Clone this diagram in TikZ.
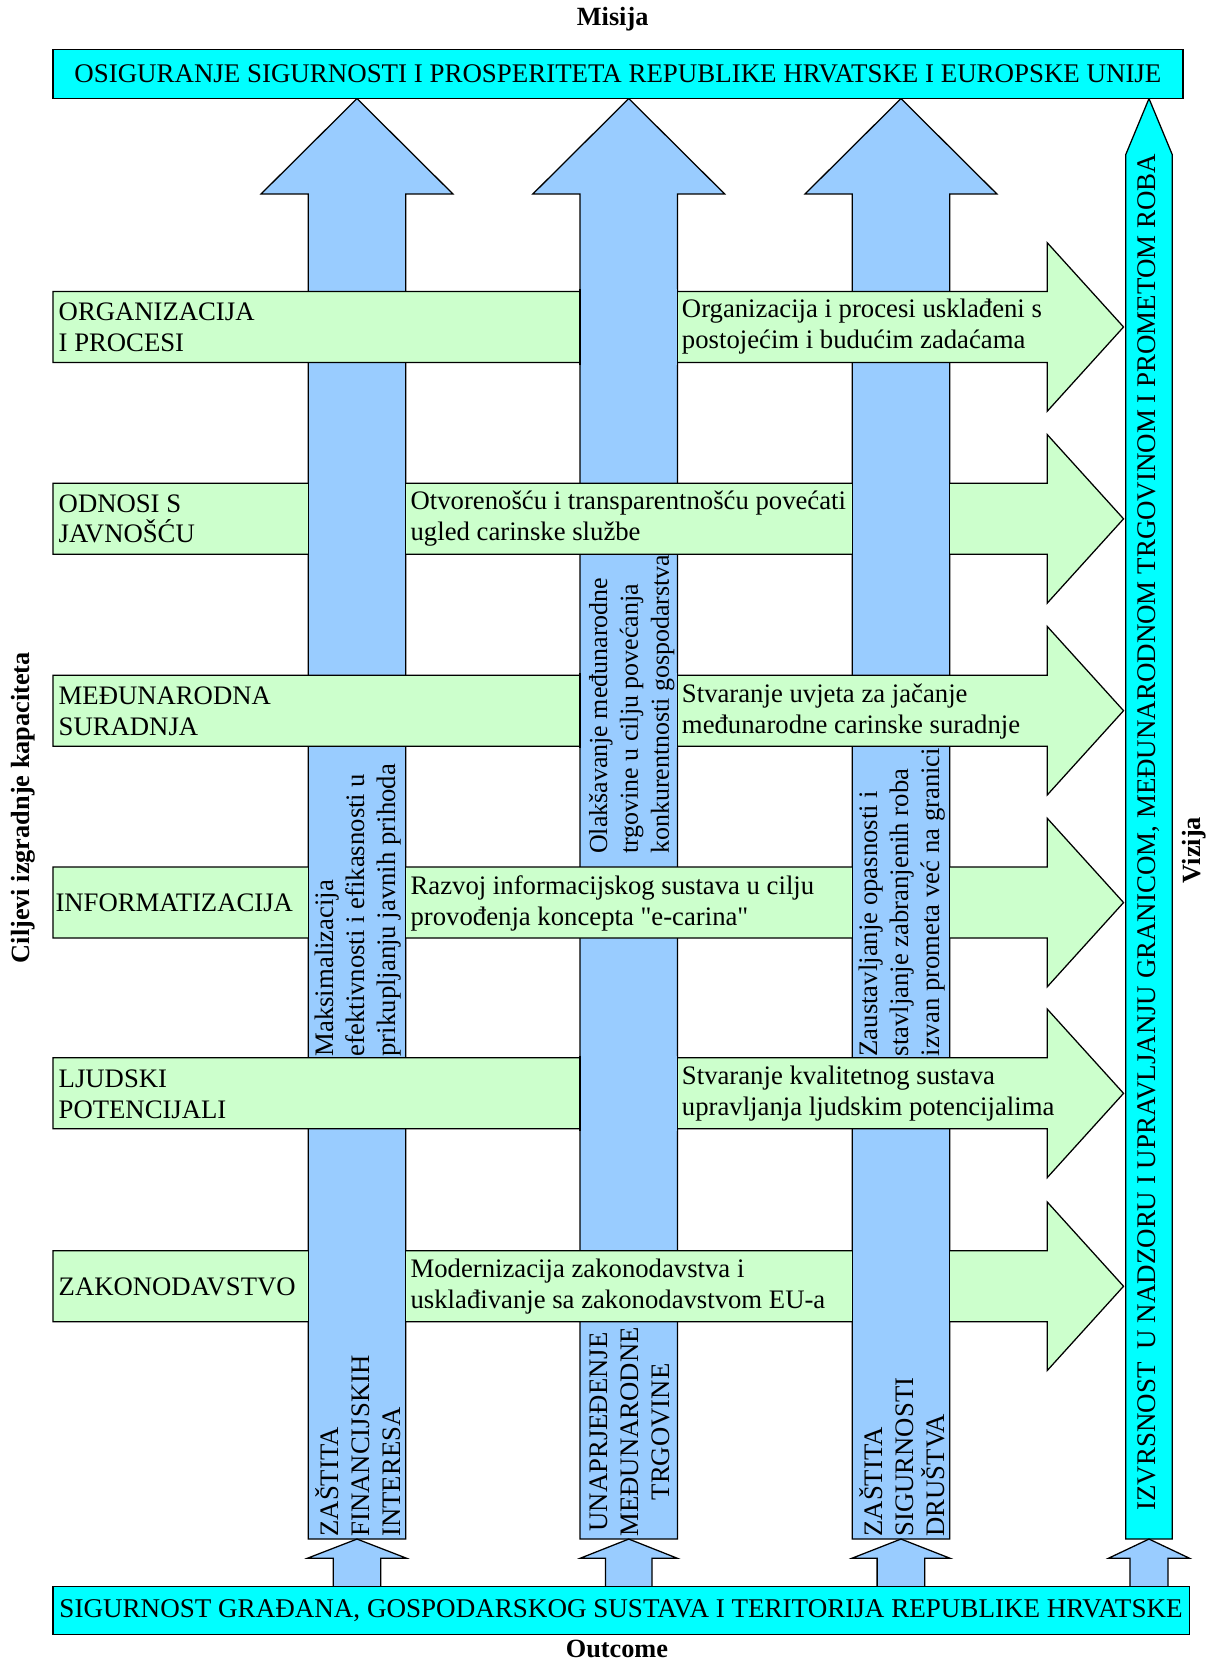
\documentclass[tikz,border=0pt]{standalone}
\usepackage{fontspec}
\setmainfont{Liberation Serif}[Ligatures=TeXOff]
\definecolor{cyanbox}{HTML}{00FFFF}
\definecolor{shaftblue}{HTML}{99CCFF}
\definecolor{rowgreen}{HTML}{CCFFCC}
\begin{document}
\begin{tikzpicture}[x=0.5pt,y=-0.5pt,
  every node/.style={inner sep=0pt, font=\fontsize{12.6}{14.6}\selectfont},
  upblue/.style={draw=black, line width=0.6pt, fill=shaftblue},
  upcyan/.style={draw=black, line width=0.6pt, fill=cyanbox},
  greenarrow/.style={draw=black, line width=0.6pt, fill=rowgreen},
  edgeline/.style={draw=black, line width=0.6pt},
  boldlbl/.style={font=\fontsize{12.4}{14.6}\selectfont\bfseries},
  rowtext/.style={anchor=west, align=left},
  shafttext/.style={rotate=90, anchor=west, align=left},
  shafttextc/.style={rotate=90, anchor=west, align=center}]
\useasboundingbox (0,0) rectangle (1144,1568);

% big blue up arrows
\foreach \c in {336.8,593.2,850}{
  \draw[upblue] (\c-46,1452) -- (\c-46,183) -- (\c-90.5,183) -- (\c,93)
     -- (\c+90.5,183) -- (\c+46,183) -- (\c+46,1452) -- cycle;
}
% cyan vision arrow
\draw[upcyan] (1062,1452) -- (1062,146) -- (1084,93) -- (1106,146) -- (1106,1452) -- cycle;

% green row arrows
\foreach \t in {275,456,637,818,998,1180}{
  \draw[greenarrow] (50,\t) -- (988,\t) -- (988,\t-46) -- (1060,\t+33.5)
     -- (988,\t+113) -- (988,\t+67) -- (50,\t+67) -- cycle;
}
% blue shafts on top: shaft 2 on rows 1,3,5
\foreach \t in {275,637,998}{
  \fill[shaftblue] (547.2,\t-2) rectangle (639.2,\t+69);
  \draw[edgeline] (547.2,\t-2) -- (547.2,\t+69) (639.2,\t-2) -- (639.2,\t+69);
}
% shafts 1 and 3 on rows 2,4,6
\foreach \t in {456,818,1180}{
  \foreach \c in {336.8,850}{
    \fill[shaftblue] (\c-46,\t-2) rectangle (\c+46,\t+69);
    \draw[edgeline] (\c-46,\t-2) -- (\c-46,\t+69) (\c+46,\t-2) -- (\c+46,\t+69);
  }
}

% small bottom arrows
\foreach \c/\h/\s in {336.8/46.5/22.5, 593.2/45.5/22, 850/46/22.5, 1084/38/18}{
  \draw[upblue] (\c-\s,1498) -- (\c-\s,1470) -- (\c-\h,1470) -- (\c,1452)
     -- (\c+\h,1470) -- (\c+\s,1470) -- (\c+\s,1498) -- cycle;
}

% top and bottom boxes
\node[draw=black, line width=0.6pt, fill=cyanbox, minimum width=533pt, minimum height=23pt,
  font=\fontsize{12.7}{14.6}\selectfont]
  (mission) at (583,70) {OSIGURANJE SIGURNOSTI I PROSPERITETA REPUBLIKE HRVATSKE I EUROPSKE UNIJE};
\node[draw=black, line width=0.6pt, fill=cyanbox, minimum width=536pt, minimum height=22.5pt,
  font=\fontsize{12.77}{14.6}\selectfont]
  (outcomebox) at (586,1519.5) {SIGURNOST GRAĐANA, GOSPODARSKOG SUSTAVA I TERITORIJA REPUBLIKE HRVATSKE};

% titles
\node[boldlbl] (misija) at (578,18) {Misija};
\node[boldlbl] (outcome) at (582,1556) {Outcome};
\node[boldlbl, rotate=90] (ciljevi) at (22,762) {Ciljevi izgradnje kapaciteta};
\node[boldlbl, rotate=90] (vizija) at (1127,802) {Vizija};

% vision text
\node[rotate=90, font=\fontsize{12.7}{14.6}\selectfont] (vision) at (1084,785) {IZVRSNOST\hspace{3pt} U NADZORU I UPRAVLJANJU GRANICOM, MEĐUNARODNOM TRGOVINOM I PROMETOM ROBA};

% row labels
\node[rowtext] (l1) at (55,308.5) {ORGANIZACIJA\\I PROCESI};
\node[rowtext] (l2) at (55,489.5) {ODNOSI S\\JAVNOŠĆU};
\node[rowtext] (l3) at (55,671) {MEĐUNARODNA\\SURADNJA};
\node[rowtext] (l4) at (52,852) {INFORMATIZACIJA};
\node[rowtext] (l5) at (55,1032) {LJUDSKI\\POTENCIJALI};
\node[rowtext] (l6) at (55,1214) {ZAKONODAVSTVO};

% row goals
\node[rowtext] (g1) at (643,308.5) {Organizacija i procesi usklađeni s\\postojećim i budućim zadaćama};
\node[rowtext] (g2) at (387,489.5) {Otvorenošću i transparentnošću povećati\\ugled carinske službe};
\node[rowtext] (g3) at (643,671) {Stvaranje uvjeta za jačanje\\međunarodne carinske suradnje};
\node[rowtext] (g4) at (387,852) {Razvoj informacijskog sustava u cilju\\provođenja koncepta "e-carina"};
\node[rowtext] (g5) at (643,1032) {Stvaranje kvalitetnog sustava\\upravljanja ljudskim potencijalima};
\node[rowtext] (g6) at (387,1214) {Modernizacija zakonodavstva i\\usklađivanje sa zakonodavstvom EU-a};

% shaft middle labels
\node[shafttext] (s1) at (337.5,997) {Maksimalizacija\\efektivnosti i efikasnosti u\\prikupljanju javnih prihoda};
\node[shafttext, font=\fontsize{12.25}{14.6}\selectfont] (s2) at (596,806) {Olakšavanje međunarodne\\trgovine u cilju povećanja\\konkurentnosti gospodarstva};
\node[shafttext] (s3) at (851,997) {Zaustavljanje opasnosti i\\stavljanje zabranjenih roba\\izvan prometa već na granici};

% shaft bottom labels
\node[shafttext] (b1) at (337.5,1450) {ZAŠTITA\\FINANCIJSKIH\\INTERESA};
\node[shafttextc] (b2) at (594,1450) {UNAPRJEĐENJE\\MEĐUNARODNE\\TRGOVINE};
\node[shafttext] (b3) at (851,1450) {ZAŠTITA\\SIGURNOSTI\\DRUŠTVA};
\end{tikzpicture}
\end{document}
